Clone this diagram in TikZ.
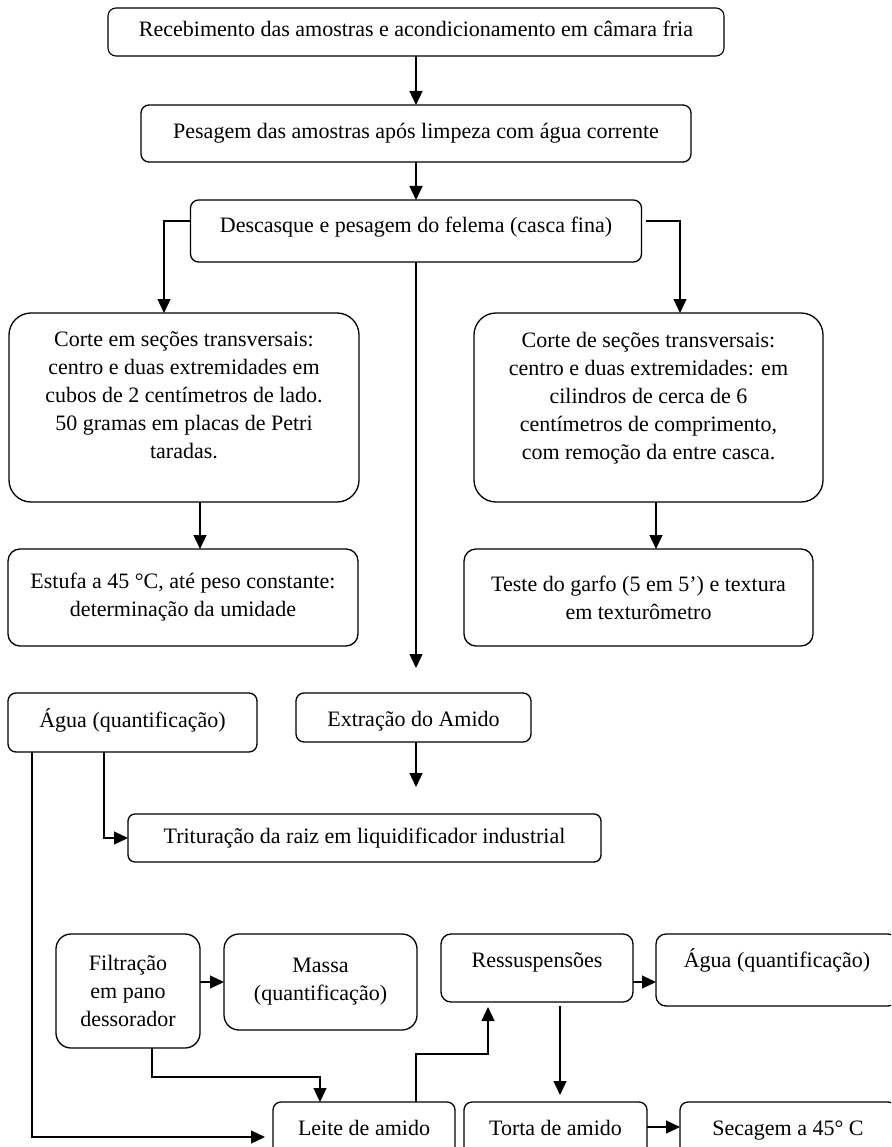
\documentclass[tikz,border=0pt]{standalone}
\usepackage{fontspec}
\setmainfont{Liberation Serif}
\usetikzlibrary{arrows.meta}
\tikzset{
  box/.style={draw, line width=1.3pt, rounded corners=#1, inner sep=0pt, outer sep=0pt,
    align=center, fill=white, font=\fontsize{22pt}{28pt}\selectfont},
  box/.default=8pt,
  one/.style={text height=15pt, text depth=5pt},
  arr/.style={line width=1.3pt, -{Triangle[length=14pt,width=13pt]}},
}
\begin{document}
\begin{tikzpicture}[x=1pt,y=-1pt]
\useasboundingbox (0,0) rectangle (891,1147);
\clip (0,0) rectangle (891,1147);
\fill[white] (0,0) rectangle (891,1147);

% nodes
\node[box=8pt, one, line width=1.1pt, minimum width=616pt, minimum height=48pt] (rec) at (416,32)
  {Recebimento das amostras e acondicionamento em câmara fria};
\node[box=8pt, one, minimum width=550pt, minimum height=57pt] (pes) at (416,133.5)
  {Pesagem das amostras após limpeza com água corrente};
\node[box=8pt, one, text depth=11pt, minimum width=451pt, minimum height=62pt] (desc) at (416,231)
  {Descasque e pesagem do felema (casca fina)};
\node[box=22pt, minimum width=350pt, minimum height=189pt] (corte1) at (184,407.5)
  {Corte em seções transversais:\\centro e duas extremidades em\\cubos de 2 centímetros de lado.\\50 gramas em placas de Petri\\taradas.\\[-4pt]\mbox{}};
\node[box=22pt, minimum width=349pt, minimum height=189pt] (corte2) at (648.5,407.5)
  {Corte de seções transversais:\\centro e duas extremidades: em\\cilindros de cerca de 6\\centímetros de comprimento,\\com remoção da entre casca.\\[-4pt]\mbox{}};
\node[box=12pt, minimum width=350pt, minimum height=97pt] (estufa) at (183,597.5)
  {Estufa a 45 °C, até peso constante:\\determinação da umidade};
\node[box=12pt, minimum width=349pt, minimum height=97pt] (teste) at (638.5,597.5)
  {Teste do garfo (5 em 5’) e textura\\em texturômetro};
\node[box=8pt, one, minimum width=249pt, minimum height=59pt] (agua1) at (132.5,722.5)
  {Água (quantificação)};
\node[box=8pt, one, text height=22pt, minimum width=235pt, minimum height=49pt] (extr) at (413.5,717.5)
  {Extração do Amido};
\node[box=7pt, one, minimum width=473pt, minimum height=48pt] (trit) at (364.5,838)
  {Trituração da raiz em liquidificador industrial};
\node[box=15pt, minimum width=144pt, minimum height=114pt] (filt) at (128,991)
  {Filtração\\em pano\\dessorador};
\node[box=15pt, minimum width=193pt, minimum height=96pt] (massa) at (320.5,982)
  {Massa\\(quantificação)};
\node[box=10pt, one, text depth=17pt, minimum width=192pt, minimum height=68pt] (ress) at (537,968)
  {Ressuspensões};
\node[box=10pt, one, text depth=21pt, minimum width=242pt, minimum height=72pt] (agua2) at (777,970)
  {Água (quantificação)};
\node[box=8pt, one, minimum width=182pt, minimum height=56pt] (leite) at (364,1130)
  {Leite de amido};
\node[box=8pt, one, minimum width=183pt, minimum height=56pt] (torta) at (555.5,1130)
  {Torta de amido};
\node[box=8pt, one, minimum width=216pt, minimum height=56pt] (sec) at (788,1130)
  {Secagem a 45° C};

% connectors
\draw[arr] (rec.south) -- (pes.north);
\draw[arr] (pes.south) -- (pes.south |- desc.north);
\draw[arr] ([yshift=10pt]desc.west) -| ([xshift=-20pt]corte1.north);
\draw[arr, shorten <=4pt] ([yshift=10pt]desc.east) -| ([xshift=31.5pt]corte2.north);
\draw[arr, shorten >=25pt] (desc.south) -- (desc.south |- extr.north);
\draw[arr] ([xshift=16pt]corte1.south) -- ([xshift=16pt]corte1.south |- estufa.north);
\draw[arr] ([xshift=7.5pt]corte2.south) -- ([xshift=7.5pt]corte2.south |- teste.north);
\draw[arr, shorten >=27pt] ([xshift=2.5pt]extr.south) -- ([xshift=2.5pt]extr.south |- trit.north);
\draw[arr] ([xshift=-28.5pt]agua1.south) |- (trit.west);
\draw[arr, shorten >=8pt] ([xshift=-100.5pt]agua1.south) |- ([yshift=-7pt]leite.west);
\draw[arr] ([yshift=9pt]filt.east) -- ([yshift=9pt]filt.east -| massa.west);
\draw[arr] ([xshift=24pt]filt.south) -- ++(0,29) -| ([xshift=-44pt]leite.north);
\draw[arr, shorten >=5pt] ([xshift=52pt]leite.north) -- ++(0,-48) -| ([xshift=-49pt]ress.south);
\draw[arr, shorten <=4pt, shorten >=7pt] ([xshift=23pt]ress.south) -- ([xshift=23pt]ress.south |- torta.north);
\draw[arr] ([yshift=-14pt]ress.east) -- ([yshift=-14pt]ress.east -| agua2.west);
\draw[arr] ([yshift=3pt]torta.east) -- ([yshift=3pt]torta.east -| sec.west);
\end{tikzpicture}
\end{document}
